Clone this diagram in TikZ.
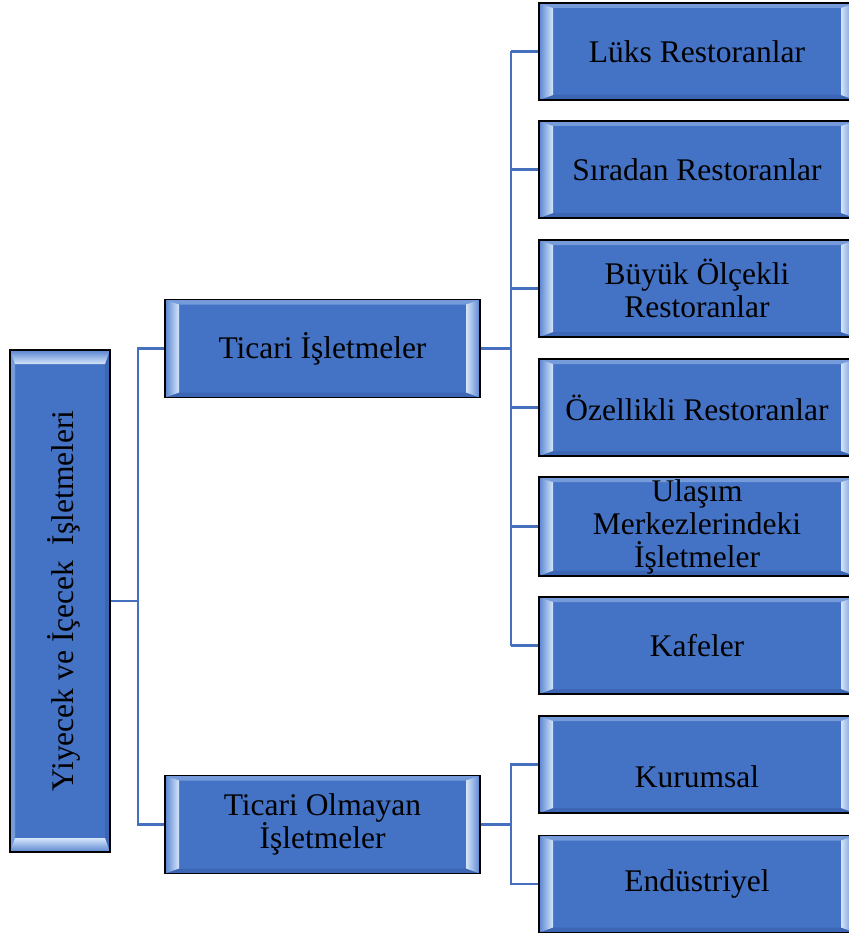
\documentclass[tikz,border=0pt]{standalone}
\usepackage{fontspec}
\setmainfont{Liberation Serif}
\usepackage{graphicx}
\usetikzlibrary{calc}
\definecolor{boxblue}{RGB}{68,114,196}
\definecolor{bevdark}{RGB}{88,132,208}
\definecolor{bevlight}{RGB}{214,230,250}
\definecolor{bevtop}{RGB}{118,155,218}
\definecolor{bevbot}{RGB}{60,102,180}
\definecolor{linkblue}{RGB}{70,112,190}
\newcommand\myhbevel{%
 \fill[bevtop] let \p1=(path picture bounding box.south west),\p2=(path picture bounding box.north east) in (\x1,\y2) -- (\x2,\y2) -- (\x2-14pt,\y2-5pt) -- (\x1+14pt,\y2-5pt) -- cycle;
 \fill[bevbot] let \p1=(path picture bounding box.south west),\p2=(path picture bounding box.north east) in (\x1,\y1) -- (\x2,\y1) -- (\x2-14pt,\y1+5pt) -- (\x1+14pt,\y1+5pt) -- cycle;
 \shade[left color=bevdark,right color=bevlight] let \p1=(path picture bounding box.south west),\p2=(path picture bounding box.north east) in (\x1,\y1) -- (\x1+14pt,\y1+5pt) -- (\x1+14pt,\y2-5pt) -- (\x1,\y2) -- cycle;
 \shade[left color=bevlight,right color=bevdark] let \p1=(path picture bounding box.south west),\p2=(path picture bounding box.north east) in (\x2,\y1) -- (\x2-14pt,\y1+5pt) -- (\x2-14pt,\y2-5pt) -- (\x2,\y2) -- cycle;
}
\newcommand\myvbevel{%
 \fill[bevtop] let \p1=(path picture bounding box.south west),\p2=(path picture bounding box.north east) in (\x1,\y1) -- (\x1,\y2) -- (\x1+5pt,\y2-14pt) -- (\x1+5pt,\y1+14pt) -- cycle;
 \fill[bevbot] let \p1=(path picture bounding box.south west),\p2=(path picture bounding box.north east) in (\x2,\y1) -- (\x2,\y2) -- (\x2-5pt,\y2-14pt) -- (\x2-5pt,\y1+14pt) -- cycle;
 \shade[top color=bevdark,bottom color=bevlight] let \p1=(path picture bounding box.south west),\p2=(path picture bounding box.north east) in (\x1,\y2) -- (\x2,\y2) -- (\x2-5pt,\y2-14pt) -- (\x1+5pt,\y2-14pt) -- cycle;
 \shade[top color=bevlight,bottom color=bevdark] let \p1=(path picture bounding box.south west),\p2=(path picture bounding box.north east) in (\x1,\y1) -- (\x2,\y1) -- (\x2-5pt,\y1+14pt) -- (\x1+5pt,\y1+14pt) -- cycle;
}
\tikzset{
  basebox/.style={draw=black, line width=1.5pt, fill=boxblue, inner sep=2pt, align=center,
    font=\fontsize{31.5}{33}\selectfont},
  hbox/.style={basebox, minimum width=315pt, minimum height=98pt, path picture={\myhbevel}},
  rbox/.style={basebox, minimum width=316pt, minimum height=97pt, path picture={\myhbevel}},
  vbox/.style={basebox, minimum width=100pt, minimum height=502pt, path picture={\myvbevel}},
  link/.style={draw=linkblue, line width=2.5pt}
}
\begin{document}
\begin{tikzpicture}[x=1pt,y=-1pt]
\useasboundingbox (0,0) rectangle (848,936);
\node[vbox] (root) at (60,601) {\hspace*{8pt}\rotatebox{90}{Yiyecek ve İçecek\ \ İşletmeleri}};
\node[hbox] (t1) at (322.5,348.5) {Ticari İşletmeler};
\node[hbox] (t2) at (322.5,824.5) {Ticari Olmayan\\İşletmeler};
\node[rbox] (r1) at (697,51.5) {Lüks Restoranlar};
\node[rbox] (r2) at (697,169.5) {Sıradan Restoranlar};
\node[rbox] (r3) at (697,288.5) {Büyük Ölçekli\\Restoranlar};
\node[rbox] (r4) at (697,407.5) {Özellikli Restoranlar};
\node[rbox] (r5) at (697,526.5) {Ulaşım\\Merkezlerindeki\\İşletmeler};
\node[rbox] (r6) at (697,645.5) {Kafeler};
\node[rbox, text height=52pt, text depth=7pt] (r7) at (697,764.5) {Kurumsal};
\node[rbox] (r8) at (697,884) {Endüstriyel};
% connectors
\coordinate (j1) at ($(root.east)+(27,0)$);
\coordinate (j2) at ($(t1.east)+(30,0)$);
\coordinate (j3) at ($(t2.east)+(30,0)$);
\draw[link] (root.east) -- (j1);
\draw[link] (t1.west) -- (t1.west -| j1) -- (t2.west -| j1) -- (t2.west);
\draw[link] (t1.east) -- (j2);
\draw[link] (r1.west -| j2) -- (r6.west -| j2);
\foreach \n in {r1,r2,r3,r4,r5,r6} {\draw[link] (\n.west -| j2) -- (\n.west);}
\draw[link] (t2.east) -- (j3);
\draw[link] (r7.west) -- (r7.west -| j3) -- (r8.west -| j3) -- (r8.west);
\end{tikzpicture}
\end{document}
